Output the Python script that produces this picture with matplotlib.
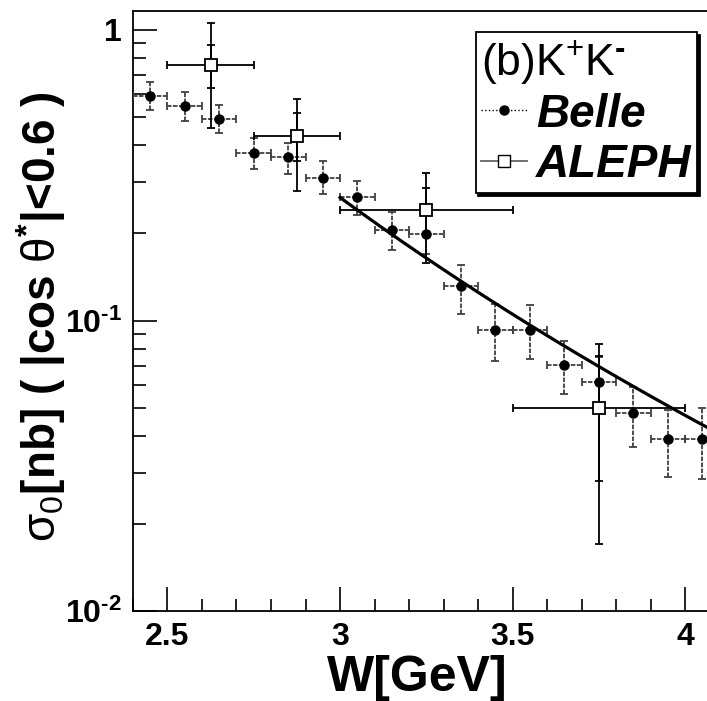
import numpy as np
import matplotlib
matplotlib.use("Agg")
import matplotlib.pyplot as plt
from matplotlib.lines import Line2D
from matplotlib.ticker import FixedLocator, FixedFormatter, MultipleLocator, NullFormatter

plt.rcParams['font.family'] = ['Liberation Sans', 'DejaVu Sans']
plt.rcParams['mathtext.fontset'] = 'custom'
plt.rcParams['mathtext.rm'] = 'Liberation Sans:bold'
plt.rcParams['mathtext.sf'] = 'Liberation Sans'
plt.rcParams['mathtext.default'] = 'regular'

# Belle points (bin centres, value, lower/upper end of error bar)
belle_w = [2.45, 2.55, 2.65, 2.75, 2.85, 2.95, 3.05, 3.15, 3.25, 3.35,
           3.45, 3.55, 3.65, 3.75, 3.85, 3.95, 4.05]
belle_sigma = [0.593, 0.548, 0.495, 0.376, 0.364, 0.310, 0.266, 0.205, 0.199, 0.131,
               0.093, 0.093, 0.0705, 0.0617, 0.0479, 0.039, 0.039]
belle_lo = [0.531, 0.486, 0.441, 0.331, 0.318, 0.272, 0.230, 0.175, 0.170, 0.105,
            0.0723, 0.0738, 0.0557, 0.050, 0.0366, 0.0289, 0.0284]
belle_hi = [0.659, 0.609, 0.552, 0.425, 0.408, 0.354, 0.302, 0.236, 0.230, 0.155,
            0.114, 0.113, 0.0849, 0.075, 0.059, 0.0491, 0.0499]
belle_half_bin = 0.05

# ALEPH points
aleph_w = [2.625, 2.875, 3.25, 3.75]
aleph_w_lo = [2.5, 2.75, 3.0, 3.5]
aleph_w_hi = [2.75, 3.0, 3.5, 4.0]
aleph_sigma = [0.759, 0.430, 0.240, 0.0502]
aleph_lo = [0.459, 0.280, 0.158, 0.0171]
aleph_hi = [1.055, 0.576, 0.321, 0.0832]
aleph_stat_lo = [0.631, 0.355, 0.200, 0.0281]
aleph_stat_hi = [0.890, 0.518, 0.285, 0.0755]

# power-law fit  sigma = norm * (W / w0)^-power
fit_norm = 0.265
fit_w0 = 3.0
fit_power = 6.0
fit_range = (3.0, 4.1)

fig = plt.figure(figsize=(7.07, 7.01), dpi=100)
ax = fig.add_axes([0.188, 0.128, 0.830, 0.857])
ax.set_yscale('log')
ax.set_xlim(2.4, 4.1)
ax.set_ylim(0.01, 1.165)

# Belle
b_w = np.array(belle_w)
b_s = np.array(belle_sigma)
yerr = [b_s - np.array(belle_lo), np.array(belle_hi) - b_s]
eb = ax.errorbar(b_w, b_s, xerr=belle_half_bin, yerr=yerr, fmt='o', color='black',
                 ms=6.5, ecolor='0.25', elinewidth=1.3, capsize=3, capthick=1.3, zorder=3)
for lc in eb[2]:
    lc.set_linestyle((0, (2.5, 0.8)))

# ALEPH
a_w = np.array(aleph_w)
a_s = np.array(aleph_sigma)
xerr = [a_w - np.array(aleph_w_lo), np.array(aleph_w_hi) - a_w]
yerr = [a_s - np.array(aleph_lo), np.array(aleph_hi) - a_s]
ax.errorbar(a_w, a_s, xerr=xerr, yerr=yerr, fmt='none', ecolor='black',
            elinewidth=1.3, capsize=3, capthick=1.3, zorder=4)
stat = [a_s - np.array(aleph_stat_lo), np.array(aleph_stat_hi) - a_s]
ax.errorbar(a_w, a_s, yerr=stat, fmt='none', ecolor='black',
            elinewidth=1.3, capsize=3, capthick=1.3, zorder=4)
ax.plot(a_w, a_s, 's', ms=9, mfc='white', mec='black', mew=1.3, zorder=5)

# fit
wf = np.linspace(fit_range[0], fit_range[1], 200)
ax.plot(wf, fit_norm * (wf / fit_w0) ** (-fit_power), color='black', lw=2.3, zorder=6)

# axes cosmetics
ax.xaxis.set_minor_locator(MultipleLocator(0.1))
ax.set_xticks([2.5, 3.0, 3.5, 4.0])
ax.set_xticklabels(['2.5', '3', '3.5', '4'])
ax.yaxis.set_major_locator(FixedLocator([0.01, 0.1, 1.0]))
ax.yaxis.set_major_formatter(FixedFormatter([r'10$^{\text{-2}}$', r'10$^{\text{-1}}$', '1']))
ax.yaxis.set_minor_locator(FixedLocator([m * d for d in (0.01, 0.1, 1.0) for m in range(2, 10)]))
ax.yaxis.set_minor_formatter(NullFormatter())
ax.tick_params(which='major', direction='in', length=17, width=1.2, labelsize=23, pad=8)
ax.tick_params(which='minor', direction='in', length=9, width=1.2)
ax.tick_params(top=False, right=False, which='both')
for lab in ax.get_xticklabels() + ax.get_yticklabels():
    lab.set_fontweight('bold')
for sp in ax.spines.values():
    sp.set_linewidth(1.3)

ax.set_xlabel('W[GeV]', fontsize=36, fontweight='bold')
ax.xaxis.set_label_coords(0.484, -0.073, transform=ax.transAxes)
ax.xaxis.label.set_verticalalignment('top')
ax.set_ylabel(r'$\mathsf{σ}_{\mathsf{0}}$[nb] ( |cos $\mathsf{θ}^{*}$|<0.6 )',
              fontsize=33, fontweight='bold')
ax.yaxis.set_label_coords(-0.11, 0.49, transform=ax.transAxes)

# legend
handles = [Line2D([], [], color='black', ls=':', lw=1, marker='o', ms=6.5),
           Line2D([], [], color='0.4', ls='-', lw=1.3, marker='s', ms=9,
                  mfc='white', mec='black')]
leg = ax.legend(handles, ['Belle', 'ALEPH'], loc='upper left',
                bbox_to_anchor=(0.584, 0.964), title=r'(b)K$^{+}$K$^{\text{-}}$',
                alignment='left', frameon=True, fancybox=False,
                shadow={'color': 'black', 'alpha': 1.0},
                prop={'size': 33, 'weight': 'bold', 'style': 'italic'},
                title_fontproperties={'size': 32},
                handlelength=1.0, handletextpad=0.2, borderpad=0.12,
                labelspacing=0.15, borderaxespad=0)
leg.get_frame().set_edgecolor('black')
leg.get_frame().set_linewidth(1.3)
leg.get_title().set_fontweight('normal')

fig.savefig('out.png', dpi=100, facecolor='white')
